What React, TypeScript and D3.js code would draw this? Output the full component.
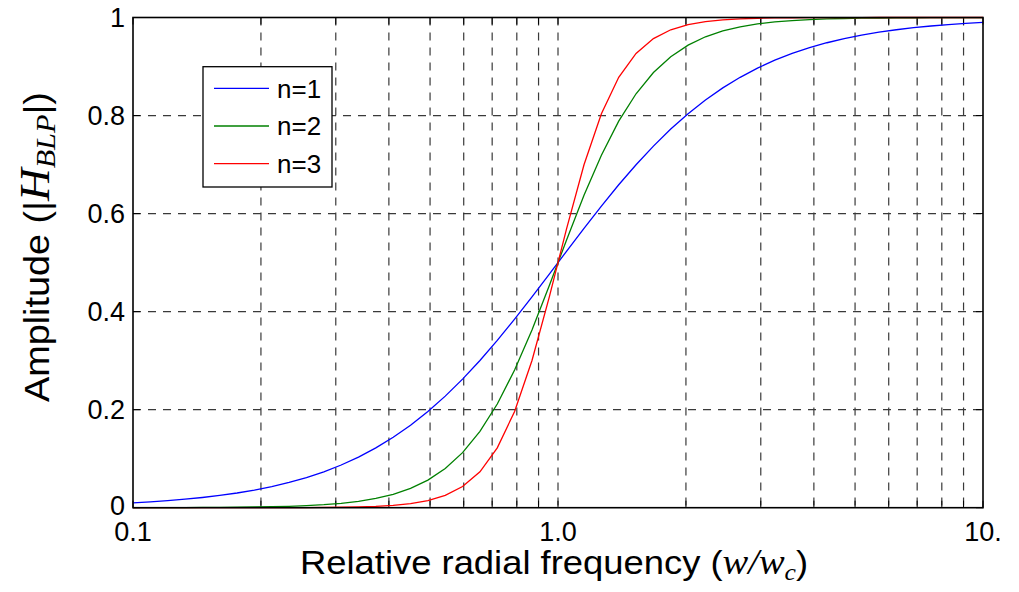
import React from "react";
import * as d3 from "d3";

// Relative radial frequency samples (w/wc), log-spaced
const freq = [
  0.1, 0.10985, 0.12068, 0.13257, 0.14564, 0.15998, 0.17575, 0.19308, 0.21209, 0.233,
  0.25595, 0.28121, 0.30893, 0.33932, 0.37272, 0.4095, 0.44984, 0.49417, 0.54289, 0.59627,
  0.65514, 0.71968, 0.79045, 0.86858, 0.9541, 1.04811, 1.1513, 1.2651, 1.3895, 1.5264,
  1.6771, 1.842, 2.0236, 2.223, 2.442, 2.683, 2.9471, 3.237, 3.556, 3.907,
  4.2919, 4.715, 5.179, 5.69, 6.251, 6.866, 7.543, 8.286, 9.103, 10,
];

const ampN1 = [
  0.0099, 0.0119, 0.0144, 0.0173, 0.0208, 0.025, 0.03, 0.0359, 0.0431, 0.0515,
  0.0615, 0.0733, 0.0871, 0.1033, 0.122, 0.1436, 0.1683, 0.1963, 0.2276, 0.2623,
  0.3003, 0.3412, 0.3846, 0.43, 0.4765, 0.5235, 0.57, 0.6154, 0.6588, 0.6997,
  0.7377, 0.7724, 0.8037, 0.8317, 0.8564, 0.878, 0.8967, 0.9129, 0.9267, 0.9385,
  0.9485, 0.9569, 0.9641, 0.97, 0.975, 0.9792, 0.9827, 0.9856, 0.9881, 0.9901,
];

const ampN2 = [
  0.0001, 0.0001, 0.0002, 0.0003, 0.0005, 0.0007, 0.001, 0.0014, 0.002, 0.0029,
  0.0043, 0.0062, 0.009, 0.0131, 0.0189, 0.0274, 0.0393, 0.0563, 0.0799, 0.1123,
  0.1556, 0.2115, 0.2809, 0.3627, 0.4532, 0.5468, 0.6373, 0.7191, 0.7885, 0.8444,
  0.8877, 0.9201, 0.9437, 0.9607, 0.9726, 0.9811, 0.9869, 0.991, 0.9938, 0.9957,
  0.9971, 0.998, 0.9986, 0.999, 0.9993, 0.9995, 0.9997, 0.9998, 0.9999, 0.9999,
];

const ampN3 = [
  0, 0, 0, 0, 0, 0, 0, 0.0001, 0.0001, 0.0002,
  0.0003, 0.0005, 0.0009, 0.0015, 0.0027, 0.0047, 0.0082, 0.0144, 0.025, 0.0431,
  0.0733, 0.122, 0.1963, 0.3003, 0.43, 0.57, 0.6997, 0.8037, 0.878, 0.9267,
  0.9569, 0.975, 0.9856, 0.9918, 0.9953, 0.9973, 0.9985, 0.9991, 0.9995, 0.9997,
  0.9998, 0.9999, 0.9999, 1, 1, 1, 1, 1, 1, 1,
];

const seriesNames = ["n=1", "n=2", "n=3"];
const seriesColors = ["#0000ff", "#008000", "#ff0000"];

const xMajorTicks = [0.1, 1, 10];
const xMajorLabels = ["0.1", "1.0", "10."];
const xMinorTicks = [0.2, 0.3, 0.4, 0.5, 0.6, 0.7, 0.8, 0.9, 2, 3, 4, 5, 6, 7, 8, 9];
const yTicks = [0, 0.2, 0.4, 0.6, 0.8, 1];
const yTickLabels = ["0", "0.2", "0.4", "0.6", "0.8", "1"];

const W = 1019;
const H = 592;
const L = 133;
const R = 983;
const T = 17.5;
const B = 507.7;

export default function App() {
  const x = d3.scaleLog().domain([0.1, 10]).range([L, R]);
  const y = d3.scaleLinear().domain([0, 1]).range([B, T]);
  const series = [ampN1, ampN2, ampN3];
  const line = (vals: number[]) =>
    d3
      .line<number>()
      .x((_, i) => x(freq[i]))
      .y((v) => y(v))(vals) as string;

  const sans = "Arial, 'Liberation Sans', Helvetica, sans-serif";
  const serif = "'Times New Roman', 'Liberation Serif', serif";
  const gridColor = "#3a3a3a";
  const dash = "8,7";
  const tickLen = 7;
  const allX = [...xMajorTicks, ...xMinorTicks];

  return (
    <svg
      width={W}
      height={H}
      style={{ position: "absolute", left: 0, top: 0, background: "#fff" }}
    >
      <rect x={0} y={0} width={W} height={H} fill="#fff" />
      {/* grid */}
      <g stroke={gridColor} strokeWidth={1.2} strokeDasharray={dash} fill="none">
        {allX
          .filter((v) => v !== 0.1 && v !== 10)
          .map((v) => (
            <line key={"gx" + v} x1={x(v)} x2={x(v)} y1={T} y2={B} />
          ))}
        {yTicks
          .filter((v) => v !== 0 && v !== 1)
          .map((v) => (
            <line key={"gy" + v} x1={L} x2={R} y1={y(v)} y2={y(v)} />
          ))}
      </g>
      {/* ticks */}
      <g stroke="#000" strokeWidth={1}>
        {allX.map((v) => (
          <g key={"tx" + v}>
            <line x1={x(v)} x2={x(v)} y1={B} y2={B - tickLen} />
            <line x1={x(v)} x2={x(v)} y1={T} y2={T + tickLen} />
          </g>
        ))}
        {yTicks.map((v) => (
          <g key={"ty" + v}>
            <line x1={L} x2={L + tickLen} y1={y(v)} y2={y(v)} />
            <line x1={R} x2={R - tickLen} y1={y(v)} y2={y(v)} />
          </g>
        ))}
      </g>
      {/* curves */}
      {series.map((s, i) => (
        <path
          key={"s" + i}
          d={line(s)}
          fill="none"
          stroke={seriesColors[i]}
          strokeWidth={1.3}
        />
      ))}
      {/* frame */}
      <rect
        x={L}
        y={T}
        width={R - L}
        height={B - T}
        fill="none"
        stroke="#000"
        strokeWidth={1.6}
      />
      {/* tick labels */}
      <g fontFamily={sans} fontSize={27} fill="#000">
        {yTicks.map((v, i) => (
          <text key={"yl" + v} x={125} y={y(v) - (v === 0 ? 2 : 0)} dy="0.36em" textAnchor="end">
            {yTickLabels[i]}
          </text>
        ))}
        {xMajorTicks.map((v, i) => (
          <text key={"xl" + v} x={x(v)} y={541} textAnchor="middle">
            {xMajorLabels[i]}
          </text>
        ))}
      </g>
      {/* x axis label */}
      <text
        transform="translate(300,574) scale(1.07,1)"
        fontFamily={sans}
        fontSize={34}
        fill="#000"
      >
        Relative radial frequency (
        <tspan fontFamily={serif} fontStyle="italic" fontSize={36}>w/w</tspan>
        <tspan fontFamily={serif} fontStyle="italic" fontSize={24} dy={6}>c</tspan>
        <tspan dy={-6}>)</tspan>
      </text>
      {/* y axis label */}
      <text
        transform="translate(49,402) rotate(-90) scale(1.08,1)"
        fontFamily={sans}
        fontSize={35}
        fill="#000"
      >
        Amplitude (|
        <tspan fontFamily={serif} fontStyle="italic" fontSize={42}>H</tspan>
        <tspan fontFamily={serif} fontStyle="italic" fontSize={28} dy={6}>BLP</tspan>
        <tspan dy={-6}>|)</tspan>
      </text>
      {/* legend */}
      <rect x={203} y={66.7} width={129} height={120.3} fill="#fff" stroke="#000" strokeWidth={1.3} />
      {seriesNames.map((name, i) => {
        const ly = 88.3 + i * 37.7;
        return (
          <g key={"lg" + i}>
            <line x1={214} x2={269} y1={ly} y2={ly} stroke={seriesColors[i]} strokeWidth={1.3} />
            <text x={277} y={ly} dy="0.36em" fontFamily={sans} fontSize={26} fill="#000">
              {name}
            </text>
          </g>
        );
      })}
    </svg>
  );
}
